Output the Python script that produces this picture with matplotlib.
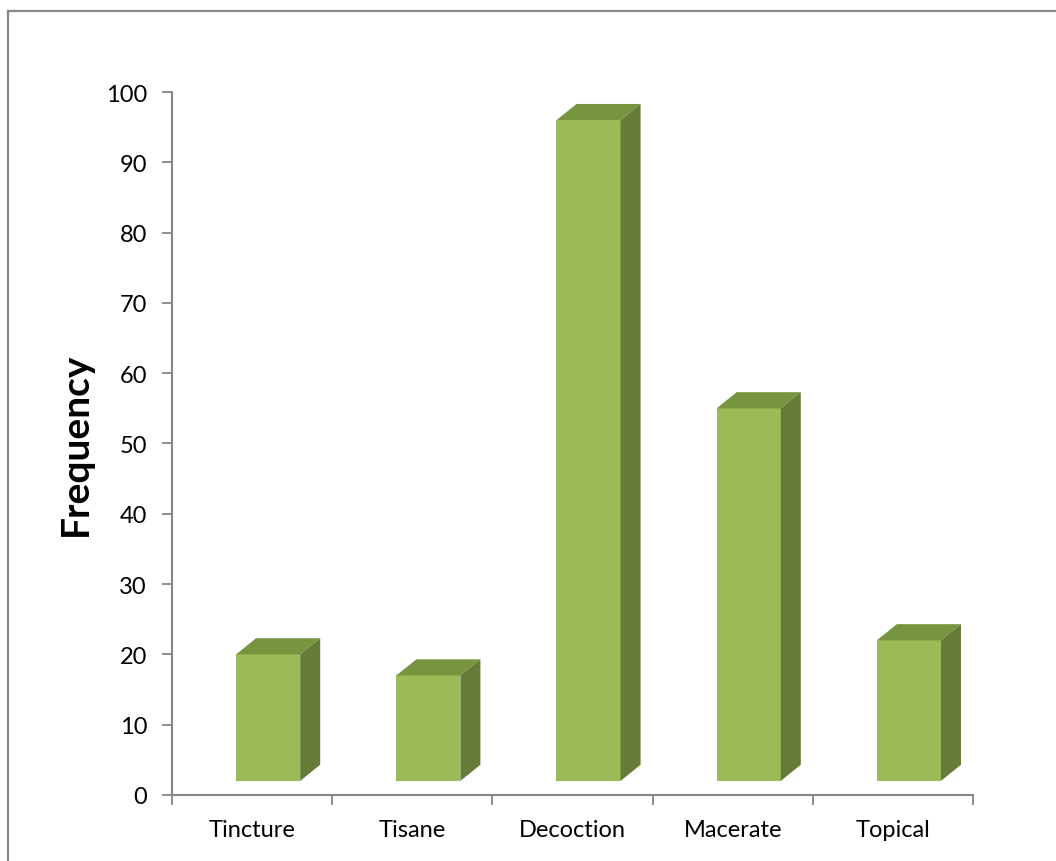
import numpy as np
import matplotlib
matplotlib.use("Agg")
import matplotlib.pyplot as plt
from matplotlib.patches import Polygon
from matplotlib.lines import Line2D

categories = ["Tincture", "Tisane", "Decoction", "Macerate", "Topical"]
frequency = [20, 17, 96, 55, 22]

FRONT = "#9bbb59"
TOP = "#77953e"
SIDE = "#667b37"
AXIS = "#868686"

plt.rcParams["font.family"] = ["Lato", "DejaVu Sans"]

fig = plt.figure(figsize=(10.56, 8.62), dpi=100)
ax = fig.add_axes([0.1629, 0.0766, 0.7585, 0.8155])

x = np.arange(len(categories))
w = 0.40      # front face width
off = -0.10   # front face offset from category centre
base = 2.0    # floor of the 3d box as drawn by excel
dx, dy = 0.125, 2.3  # depth of the box

bars = ax.bar(x + off, np.array(frequency) - base, width=w, bottom=base,
              align="edge", color=FRONT, edgecolor="none", zorder=3)
for b in bars:
    x0, y0 = b.get_x(), b.get_y()
    x1, y1 = x0 + b.get_width(), y0 + b.get_height()
    ax.add_patch(Polygon([(x0, y1), (x1, y1), (x1 + dx, y1 + dy), (x0 + dx, y1 + dy)],
                         closed=True, facecolor=TOP, edgecolor="none", zorder=3))
    ax.add_patch(Polygon([(x1, y0), (x1 + dx, y0 + dy), (x1 + dx, y1 + dy), (x1, y1)],
                         closed=True, facecolor=SIDE, edgecolor="none", zorder=3))

ax.set_xlim(-0.5, len(categories) - 0.5)
ax.set_ylim(0, 100)
ax.set_yticks(np.arange(0, 101, 10))
ax.set_xticks(x)
ax.set_xticklabels(categories)
ax.set_xticks(np.arange(-0.5, len(categories), 1.0), minor=True)
ax.tick_params(axis="x", which="major", length=0, pad=17, labelsize=17)
ax.tick_params(axis="x", which="minor", length=7, width=1.3, color=AXIS, direction="out")
ax.tick_params(axis="y", length=7, width=1.3, color=AXIS, direction="out", pad=11, labelsize=17)

for s in ["top", "right"]:
    ax.spines[s].set_visible(False)
for s in ["left", "bottom"]:
    ax.spines[s].set_color(AXIS)
    ax.spines[s].set_linewidth(1.5)

ax.set_ylabel("Frequency", fontsize=28, fontweight="bold", labelpad=9)

# chart area border (only left and top visible in the crop)
fig.add_artist(Line2D([8 / 1056, 8 / 1056], [0, 1 - 12 / 862], color="#888888", lw=1.6,
                      transform=fig.transFigure))
fig.add_artist(Line2D([8 / 1056, 1], [1 - 12 / 862, 1 - 12 / 862], color="#888888", lw=1.6,
                      transform=fig.transFigure))

fig.savefig("out.png", dpi=100)
